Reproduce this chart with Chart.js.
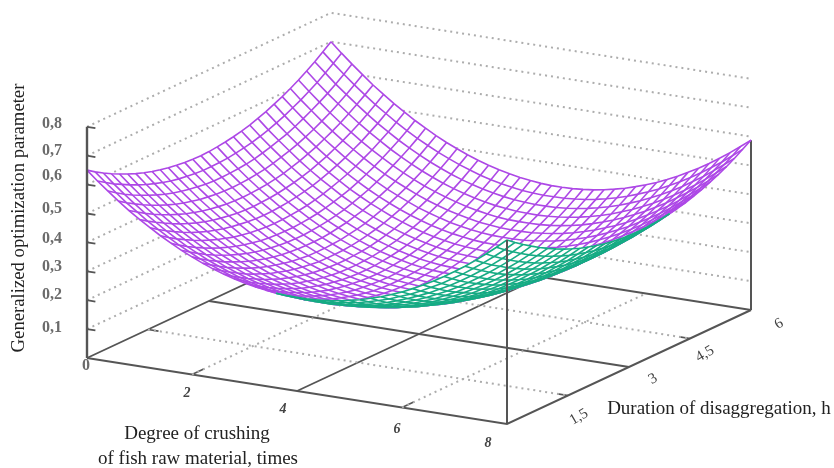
<!DOCTYPE html>
<html>
<head>
<meta charset="utf-8">
<style>html,body{margin:0;padding:0;background:#fff}canvas{display:block}</style>
<script src="https://cdn.jsdelivr.net/npm/chart.js@4"></script>
</head>
<body>
<canvas id="chart" width="834" height="468"></canvas>
<script>
const crushTicks = [2, 4, 6, 8];
const durationTicks = [1.5, 3, 4.5, 6];
const durationLabels = ['1,5', '3', '4,5', '6'];
const paramTicks = [0.1, 0.2, 0.3, 0.4, 0.5, 0.6, 0.7, 0.8];
const paramLabels = ['0,1', '0,2', '0,3', '0,4', '0,5', '0,6', '0,7', '0,8'];

// mesh nodes along each floor axis
const crushGrid = [0, 0.2, 0.4, 0.6, 0.8, 1, 1.2, 1.4, 1.6, 1.8, 2, 2.2, 2.4, 2.6, 2.8, 3, 3.2, 3.4, 3.6, 3.8, 4, 4.2, 4.4, 4.6, 4.8, 5, 5.2, 5.4, 5.6, 5.8, 6, 6.2, 6.4, 6.6, 6.8, 7, 7.2, 7.4, 7.6, 7.8, 8];
const durationGrid = [0, 0.2, 0.4, 0.6, 0.8, 1, 1.2, 1.4, 1.6, 1.8, 2, 2.2, 2.4, 2.6, 2.8, 3, 3.2, 3.4, 3.6, 3.8, 4, 4.2, 4.4, 4.6, 4.8, 5, 5.2, 5.4, 5.6, 5.8, 6];

// optimization parameter x 1000, one row per duration node
const surface = [
[650,618,589,560,533,508,485,463,443,424,407,391,377,365,354,345,338,332,327,325,324,324,326,330,335,342,350,361,372,385,400,417,435,455,476,499,523,549,577,606,637],
[631,600,570,541,515,489,466,444,423,405,387,372,358,345,335,325,318,312,307,305,303,304,306,309,315,321,330,340,351,365,379,396,414,433,455,477,502,528,555,584,615],
[614,582,552,524,497,472,448,426,405,387,369,354,340,327,316,307,299,293,289,286,284,285,287,290,295,302,310,320,332,345,360,376,394,413,434,457,482,507,535,564,595],
[598,567,536,508,481,456,432,410,389,370,353,337,323,310,299,290,282,276,271,268,267,267,269,272,278,284,292,302,314,327,341,358,375,395,416,439,463,489,516,545,576],
[584,552,522,493,466,441,417,395,374,355,337,322,307,295,284,274,266,260,255,252,251,251,253,256,261,268,276,286,297,310,324,341,358,378,399,421,445,471,498,527,558],
[571,539,509,480,453,427,403,381,360,341,324,308,293,280,269,260,252,246,241,238,236,236,238,241,246,253,261,270,282,294,309,325,343,362,383,405,429,455,482,511,542],
[559,527,497,468,441,415,391,369,348,329,311,295,281,268,257,247,239,233,228,225,223,223,225,228,232,239,247,257,268,280,295,311,328,348,368,391,415,440,467,496,527],
[549,517,486,457,430,404,380,358,337,318,300,284,269,256,245,235,227,221,216,213,211,211,212,215,220,227,234,244,255,268,282,298,315,335,355,378,401,427,454,483,513],
[540,508,477,448,421,395,371,349,327,308,290,274,260,247,235,225,217,211,206,202,201,200,202,205,209,216,224,233,244,257,271,287,304,323,344,366,390,415,442,471,501],
[533,500,470,441,413,387,363,340,319,300,282,266,251,238,227,217,208,202,197,193,191,191,193,195,200,206,214,223,234,247,261,277,294,313,333,355,379,405,431,460,490],
[527,494,464,434,407,381,357,334,313,293,275,259,244,231,219,209,201,194,189,186,184,183,185,187,192,198,206,215,226,238,252,268,285,304,325,347,370,396,422,451,481],
[522,490,459,430,402,376,352,329,307,288,270,253,239,225,214,204,195,188,183,180,178,177,178,181,185,191,199,208,219,231,245,261,278,297,317,339,363,388,415,443,473],
[519,486,455,426,398,372,348,325,303,284,266,249,234,221,209,199,191,184,178,175,173,172,173,176,180,186,194,203,213,226,239,255,272,291,311,333,356,382,408,436,466],
[517,484,453,424,396,370,345,322,301,281,263,246,231,218,206,196,188,181,175,171,169,169,170,172,176,182,190,199,209,221,235,251,268,286,306,328,352,377,403,431,461],
[516,484,453,423,395,369,344,321,300,280,262,245,230,216,205,194,186,179,173,169,167,166,167,170,174,180,187,196,206,218,232,248,265,283,303,325,348,373,400,428,457],
[517,485,454,424,396,370,345,322,300,280,262,245,230,216,204,194,185,178,173,169,166,166,166,169,173,179,186,195,205,217,231,246,263,281,301,323,346,371,397,426,455],
[520,487,456,426,398,372,347,324,302,282,263,247,231,218,206,195,186,179,174,170,167,166,167,169,173,179,186,195,205,217,231,246,263,281,301,323,346,370,397,425,454],
[524,491,459,430,401,375,350,327,305,285,266,249,234,220,208,198,189,182,176,172,169,168,169,171,175,181,188,196,207,218,232,247,264,282,302,323,346,371,397,425,455],
[529,496,464,434,406,380,355,331,309,289,271,254,238,224,212,202,193,185,179,175,173,172,172,174,178,184,191,199,209,221,235,250,266,284,304,326,349,373,399,427,457],
[535,502,471,441,412,386,361,337,315,295,276,259,244,230,218,207,198,190,184,180,178,176,177,179,183,188,195,204,214,225,239,254,270,288,308,329,352,377,403,430,460],
[543,510,479,449,420,393,368,345,323,302,284,266,251,237,224,214,205,197,191,187,184,183,183,185,189,194,201,209,219,231,244,259,276,293,313,334,357,382,408,435,465],
[553,519,488,458,429,402,377,354,331,311,292,275,259,245,233,222,213,205,199,194,192,190,191,193,196,201,208,217,226,238,251,266,282,300,320,341,364,388,414,441,471],
[563,530,498,468,440,413,387,364,341,321,302,285,269,255,242,231,222,214,208,204,201,199,200,201,205,210,217,225,235,246,259,274,290,308,328,349,371,396,421,449,478],
[576,542,510,480,451,424,399,375,353,332,313,296,280,266,253,242,233,225,219,214,211,210,210,212,215,220,227,235,245,256,269,284,300,318,337,358,381,405,431,458,487],
[589,556,524,493,465,438,412,388,366,345,326,309,293,278,266,255,245,237,231,226,223,222,222,223,227,232,238,246,256,267,280,295,311,328,348,369,391,415,441,468,497],
[604,570,539,508,479,452,427,403,380,359,340,323,307,292,280,268,259,251,244,240,236,235,235,236,240,245,251,259,269,280,293,307,323,341,360,381,403,427,453,480,509],
[620,587,555,524,495,468,442,418,396,375,356,338,322,308,295,284,274,266,259,254,251,250,250,251,254,259,265,273,283,294,307,321,337,354,374,394,417,441,466,493,522],
[638,604,572,542,513,485,460,436,413,392,373,355,339,324,311,300,290,282,275,271,267,266,265,267,270,275,281,289,298,309,322,336,352,369,388,409,431,455,481,508,536],
[657,624,591,561,532,504,478,454,431,410,391,373,357,342,329,318,308,300,293,288,285,283,283,284,287,292,298,306,315,326,339,353,369,386,405,425,448,471,497,524,552],
[678,644,612,581,552,524,499,474,451,430,411,393,377,362,349,337,327,319,312,307,304,302,302,303,306,310,316,324,333,344,357,371,386,404,423,443,465,489,514,541,570],
[700,666,634,603,573,546,520,496,473,452,432,414,398,383,370,358,348,340,333,328,324,322,322,323,326,330,336,344,353,364,376,390,406,423,442,462,484,508,533,560,588]
];

// flat 3D view: crushing, duration and parameter axes onto the page
function project(x, y, z) {
    return { x: 87 + 52.5 * x + 40.67 * y, y: 358 + 8.25 * x - 19 * y - 289 * z };
}

const AXIS = '#555', DOTS = '#adadad', PURPLE = '#ad48e6', GREEN = '#16ab84';
const rows = surface.length - 1, cols = surface[0].length - 1;

function node(i, j) { return project(crushGrid[i], durationGrid[j], surface[j][i] / 1000); }

// true when the cell shows its outer side to the viewer
function underside(i, j) {
    if (i < 0 || j < 0 || i >= cols || j >= rows) return null;
    const a = node(i, j), b = node(i + 1, j), c = node(i + 1, j + 1), d = node(i, j + 1);
    return (c.x - a.x) * (d.y - b.y) - (c.y - a.y) * (d.x - b.x) > 0;
}

const datasets = [];
function addLine(points, color, width, order, dash) {
    datasets.push({ data: points, borderColor: color, borderWidth: width, order: order, borderDash: dash || [], pointRadius: 0, showLine: true, tension: 0, fill: false });
}

// floor and walls
[2, 6].forEach(x => addLine([project(x, 0, 0), project(x, 6, 0)], DOTS, 2, 50, [2, 4]));
[1.5, 4.5].forEach(y => addLine([project(0, y, 0), project(8, y, 0)], DOTS, 2, 50, [2, 4]));
paramTicks.forEach(z => addLine([project(0, 0, z), project(0, 6, z), project(8, 6, z)], DOTS, 2, 50, [2, 4]));
addLine([project(0, 0, 0), project(0, 6, 0), project(8, 6, 0)], AXIS, 1.8, 50);
addLine([project(4, 0, 0), project(4, 6, 0)], AXIS, 1.8, 50);
addLine([project(0, 3, 0), project(8, 3, 0)], AXIS, 1.8, 50);
addLine([project(0, 0, 0), project(8, 0, 0), project(8, 6, 0)], AXIS, 2, 50);
addLine([project(8, 6, 0), project(8, 6, surface[rows][cols] / 1000)], AXIS, 2, 50);
[2, 6].forEach(x => addLine([project(x, 0, 0), project(x, 0.3, 0)], AXIS, 1.6, 50));
[1.5, 4.5].forEach(y => {
    addLine([project(0, y, 0), project(0.2, y, 0)], AXIS, 1.6, 50);
    addLine([project(8, y, 0), project(7.8, y, 0)], AXIS, 1.6, 50);
});

// mesh, one pass for the inner side and one for the outer side
function addMesh(layer, order, color, wanted) {
    for (let j = 0; j <= rows; j++) {
        const pts = crushGrid.map((c, i) => node(i, j));
        datasets.push({ layer, data: pts, borderColor: color, borderWidth: 1.6, order, pointRadius: 0, showLine: true, tension: 0, fill: false,
            segment: { borderColor: ctx => {
                const i = ctx.p0DataIndex;
                return underside(i, j) === wanted || underside(i, j - 1) === wanted ? color : 'transparent';
            } } });
    }
    for (let i = 0; i <= cols; i++) {
        const pts = durationGrid.map((d, j) => node(i, j));
        datasets.push({ layer, data: pts, borderColor: color, borderWidth: 1.6, order, pointRadius: 0, showLine: true, tension: 0, fill: false,
            segment: { borderColor: ctx => {
                const j = ctx.p0DataIndex;
                return underside(i, j) === wanted || underside(i - 1, j) === wanted ? color : 'transparent';
            } } });
    }
}
addMesh('inner', 30, PURPLE, false);
addMesh('outer', 20, GREEN, true);

// front axes on top of the surface
addLine([project(8, 0, 0), project(8, 0, surface[0][cols] / 1000)], AXIS, 2, 10);
addLine([project(0, 0, 0), project(0, 0, 0.8)], AXIS, 2.4, 10);
paramTicks.forEach(z => addLine([project(0, 0, z), project(0.16, 0, z)], AXIS, 1.8, 10));

// hides whatever lies behind the mesh
const maskPlugin = {
    id: 'mask',
    beforeDatasetsDraw() { this.done = {}; },
    beforeDatasetDraw(chart, args) {
        const layer = chart.data.datasets[args.index].layer;
        if (!layer || this.done[layer]) return;
        this.done[layer] = true;
        const c = chart.ctx, sx = chart.scales.x, sy = chart.scales.y;
        c.save();
        c.fillStyle = c.strokeStyle = '#fff';
        c.lineWidth = 1;
        for (let j = 0; j < rows; j++) for (let i = 0; i < cols; i++) {
            if (layer === 'outer' && !underside(i, j)) continue;
            c.beginPath();
            [[i, j], [i + 1, j], [i + 1, j + 1], [i, j + 1]].forEach(q => {
                const p = node(q[0], q[1]);
                c.lineTo(sx.getPixelForValue(p.x), sy.getPixelForValue(p.y));
            });
            c.closePath(); c.fill(); c.stroke();
        }
        c.restore();
    }
};

const textPlugin = {
    id: 'texts',
    afterDraw(chart) {
        const c = chart.ctx;
        function put(s, x, y, font, color, angle) {
            c.save();
            c.translate(x, y);
            c.rotate((angle || 0) * Math.PI / 180);
            c.font = font; c.fillStyle = color; c.textAlign = 'center'; c.textBaseline = 'middle';
            c.fillText(s, 0, 0);
            c.restore();
        }
        const tick = 'bold 16px "Liberation Serif"';
        const zPos = [328, 295, 267, 239, 209, 176, 151, 124];
        paramLabels.forEach((s, k) => put(s, 52, zPos[k], tick, '#6b6b6b', 0));
        put('0', 86, 366, tick, '#6b6b6b', 0);
        const xPos = [[187, 393], [283, 409], [397, 429], [488, 443]];
        crushTicks.forEach((t, k) => put(String(t), xPos[k][0], xPos[k][1], 'italic bold 14px "Liberation Serif"', '#444', 0));
        const yPos = [[579, 417], [653, 379], [705, 354], [779, 324]];
        durationLabels.forEach((s, k) => put(s, yPos[k][0], yPos[k][1], '15px "Liberation Serif"', '#444', -30));
        const title = '19px "Liberation Serif"';
        put('Generalized optimization parameter', 19, 218, '18.7px "Liberation Serif"', '#222', -90);
        put('Degree of crushing', 197, 434, title, '#222', 0);
        put('of fish raw material, times', 198, 459, title, '#222', 0);
        put('Duration of disaggregation, h', 719, 409, title, '#222', 0);
    }
};

new Chart(document.getElementById('chart'), {
    type: 'scatter',
    data: { datasets },
    plugins: [maskPlugin, textPlugin],
    options: {
        responsive: false,
        animation: false,
        layout: { padding: 0 },
        plugins: { legend: { display: false }, tooltip: { enabled: false } },
        scales: {
            x: { display: false, min: 0, max: 834 },
            y: { display: false, min: 0, max: 468, reverse: true }
        }
    }
});
</script>
</body>
</html>
